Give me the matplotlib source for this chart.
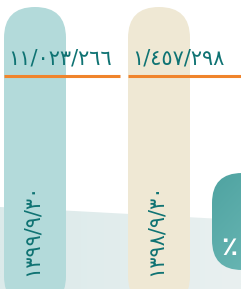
import numpy as np
import matplotlib.pyplot as plt
from matplotlib.colors import LinearSegmentedColormap
from matplotlib.patches import FancyBboxPatch, Polygon

# values shown on the two pills (Arabic-Indic digits)
totals = ['١١/٠٢٣/٢٦٦', '١/٤٥٧/٢٩٨']
dates = ['١٣٩٩/٩/٣٠', '١٣٩٨/٩/٣٠']
pill_colors = ['#b3dada', '#efe8d4']
pct_label = '٪'

W, H = 241, 289
fig = plt.figure(figsize=(W / 100, H / 100), dpi=100)
ax = fig.add_axes([0, 0, 1, 1])
ax.set_xlim(0, W)
ax.set_ylim(H, 0)
ax.axis('off')

# light background band at the bottom
band = Polygon([(0, 207), (W, 220), (W, H), (0, H)], closed=True,
               facecolor='none', edgecolor='none')
ax.add_patch(band)
grad = np.linspace(0, 1, 100).reshape(1, -1)
im = ax.imshow(grad, extent=[0, W, H, 200],
               cmap=LinearSegmentedColormap.from_list('bg', ['#dbeaea', '#e9f0f0']),
               aspect='auto', zorder=0)
im.set_clip_path(band)

# the two pills
pill_x = [4, 128]
pill_w = 62
for i, (x0, col) in enumerate(zip(pill_x, pill_colors)):
    p = FancyBboxPatch((x0, 7), pill_w, 300, boxstyle='round,pad=0,rounding_size=31',
                       facecolor=col, edgecolor='none', zorder=1)
    ax.add_patch(p)
    ax.text(x0 + 4, 58, totals[i], fontsize=15, color='#0f7373', ha='left', va='center',
            family='DejaVu Sans', zorder=3)
    ax.text(x0 + 28, 230, dates[i], fontsize=15, color='#0f7373', rotation=90,
            ha='center', va='center', family='DejaVu Sans', zorder=3)

# orange rules
ax.plot([4, 120], [76, 76], color='#f0842c', lw=2.2, solid_capstyle='butt', zorder=2)
ax.plot([128, W], [76, 76], color='#f0842c', lw=2.2, solid_capstyle='butt', zorder=2)

# teal pill on the right
tp = FancyBboxPatch((212, 173), 90, 97, boxstyle='round,pad=0,rounding_size=30',
                    facecolor='none', edgecolor='none', zorder=1)
ax.add_patch(tp)
tg = np.linspace(0, 1, 100).reshape(-1, 1) * 0.5 + np.linspace(0, 1, 100).reshape(1, -1) * 0.5
tim = ax.imshow(tg, extent=[212, 302, 270, 173],
                cmap=LinearSegmentedColormap.from_list('tl', ['#4fa3a1', '#72bdba']),
                aspect='auto', zorder=1)
tim.set_clip_path(tp)
ax.text(221, 248, pct_label, fontsize=19, color='white', fontweight='bold',
        ha='left', va='center', family='DejaVu Sans', zorder=3)

fig.savefig('out.png', dpi=100)
